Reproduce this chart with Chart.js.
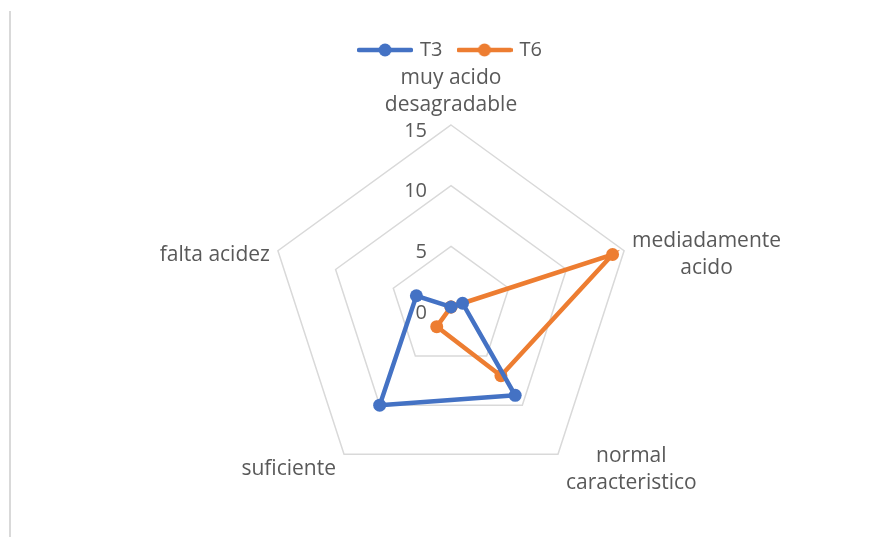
<!DOCTYPE html>
<html>
<head>
<meta charset="utf-8">
<script src="https://cdn.jsdelivr.net/npm/chart.js@4.4.0/dist/chart.umd.min.js"></script>
<style>
html, body { margin: 0; padding: 0; background: #fff; overflow: hidden; }
#wrap { position: relative; width: 878px; height: 537px; overflow: hidden; }
#frame { position: absolute; left: 9px; top: 11px; width: 2px; height: 526px; background: #d9d9d9; z-index: 1; }
canvas { position: absolute; left: 0; top: 0; }
</style>
</head>
<body>
<div id="wrap">
  <div id="frame"></div>
  <canvas id="radar" width="878" height="548"></canvas>
</div>
<script>
// values
var categories = [["muy acido", "desagradable"], ["mediadamente", "acido"], ["normal", "caracteristico"], "suficiente", "falta acidez"];
var seriesNames = ["T3", "T6"];
var t3Values = [0, 1, 9, 10, 3];
var t6Values = [0, 14, 7, 2, 0];
var tickValues = [0, 5, 10, 15];

var blue = '#4472C4';
var orange = '#ED7D31';
var txtColor = '#595959';
var fontName = "'Open Sans', sans-serif";

// line + dot legend symbol like the office one
function legendMark(color) {
    var c = document.createElement('canvas');
    c.width = 56;
    c.height = 16;
    var g = c.getContext('2d');
    g.strokeStyle = color;
    g.lineWidth = 4.5;
    g.lineCap = 'round';
    g.beginPath();
    g.moveTo(2, 8);
    g.lineTo(54, 8);
    g.stroke();
    g.fillStyle = color;
    g.beginPath();
    g.arc(28, 8, 6.5, 0, Math.PI * 2);
    g.fill();
    return c;
}
var marks = [legendMark(blue), legendMark(orange)];

var labelPlugin = {
    id: 'excelLabels',
    beforeDatasetsDraw: function (chart) {
        var sc = chart.scales.r;
        var ctx = chart.ctx;
        ctx.save();
        ctx.font = '20px ' + fontName;
        ctx.fillStyle = txtColor;
        ctx.textAlign = 'right';
        ctx.textBaseline = 'middle';
        tickValues.forEach(function (v) {
            var p = sc.getPointPositionForValue(0, v);
            ctx.fillText(String(v), p.x - 24, p.y + 6);
        });
        ctx.restore();
    },
    afterDraw: function (chart) {
        var sc = chart.scales.r;
        var ctx = chart.ctx;
        var lh = 27;
        ctx.save();
        ctx.font = '21px ' + fontName;
        ctx.fillStyle = txtColor;
        ctx.textAlign = 'center';
        ctx.textBaseline = 'middle';
        categories.forEach(function (lab, i) {
            var lines = [].concat(lab);
            var v = sc.getPointPosition(i, sc.drawingArea);
            var w = Math.max.apply(null, lines.map(function (s) { return ctx.measureText(s).width; }));
            var h = lines.length * lh;
            var dx = v.x - sc.xCenter;
            var dy = v.y - sc.yCenter;
            var cx, cy;
            if (Math.abs(dx) < 1) {
                cx = v.x;
                cy = v.y - 6 - h / 2;
            } else {
                cx = v.x + Math.sign(dx) * (w / 2 + 8);
                cy = v.y + (dy > 0 ? 15 : 4);
            }
            lines.forEach(function (s, k) {
                ctx.fillText(s, cx, cy - h / 2 + lh / 2 + k * lh);
            });
        });
        ctx.restore();
    }
};

var ctx = document.getElementById('radar').getContext('2d');
var radar = new Chart(ctx, {
    type: 'radar',
    data: {
        labels: categories,
        datasets: [{
            label: seriesNames[0],
            data: t3Values,
            borderColor: blue,
            backgroundColor: blue,
            pointBackgroundColor: blue,
            pointBorderWidth: 0,
            pointRadius: 6.5,
            borderWidth: 4.5,
            fill: false
        }, {
            label: seriesNames[1],
            data: t6Values,
            borderColor: orange,
            backgroundColor: orange,
            pointBackgroundColor: orange,
            pointBorderWidth: 0,
            pointRadius: 6.5,
            borderWidth: 4.5,
            fill: false
        }]
    },
    options: {
        responsive: false,
        animation: false,
        devicePixelRatio: 1,
        layout: {
            padding: { top: 23, left: 269, right: 245, bottom: 3 }
        },
        plugins: {
            tooltip: { enabled: false },
            legend: {
                position: 'top',
                labels: {
                    usePointStyle: true,
                    pointStyleWidth: 50,
                    color: txtColor,
                    padding: 17,
                    font: { family: fontName, size: 20 },
                    generateLabels: function (chart) {
                        var items = Chart.defaults.plugins.legend.labels.generateLabels(chart);
                        items.forEach(function (it, i) {
                            it.pointStyle = marks[i];
                            it.fontColor = txtColor;
                        });
                        return items;
                    }
                }
            }
        },
        scales: {
            r: {
                min: 0,
                max: 15,
                ticks: { stepSize: 5, display: false },
                grid: { color: '#d9d9d9', lineWidth: 1.5 },
                angleLines: { display: false },
                pointLabels: { display: false }
            }
        }
    },
    plugins: [labelPlugin]
});
</script>
</body>
</html>
